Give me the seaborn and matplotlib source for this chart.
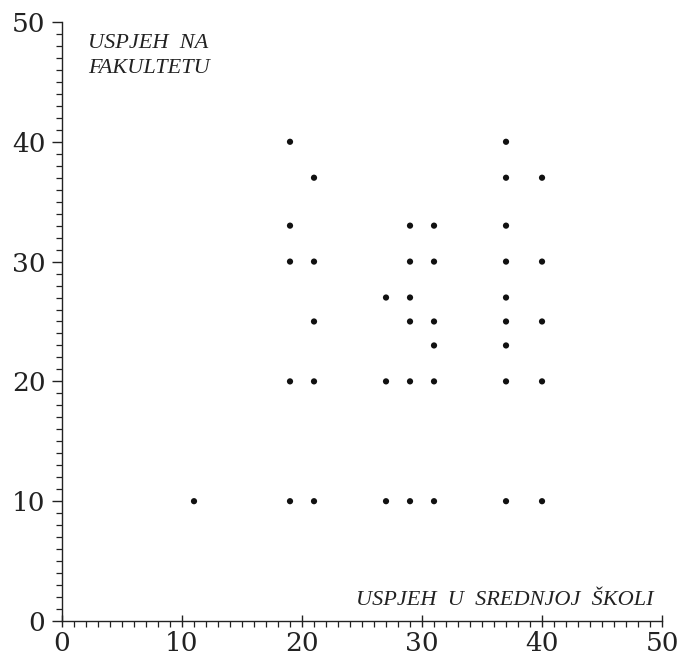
import numpy as np
import pandas as pd
import matplotlib
matplotlib.use("Agg")
import matplotlib.pyplot as plt
import seaborn as sns
from matplotlib.ticker import MultipleLocator

# Points: x = high school score, y = university score
skola = [11,
         19, 19, 19, 19, 19,
         21, 21, 21, 21, 21,
         27, 27, 27,
         29, 29, 29, 29, 29, 29,
         31, 31, 31, 31, 31, 31,
         37, 37, 37, 37, 37, 37, 37, 37, 37,
         40, 40, 40, 40, 40]
fakultet = [10,
            40, 33, 30, 20, 10,
            37, 30, 25, 20, 10,
            27, 20, 10,
            33, 30, 27, 25, 20, 10,
            33, 30, 25, 23, 20, 10,
            40, 37, 33, 30, 27, 25, 23, 20, 10,
            37, 30, 25, 20, 10]

major_ticks = [0, 10, 20, 30, 40, 50]
x_title = "USPJEH  U  SREDNJOJ  ŠKOLI"
y_title = "USPJEH  NA\nFAKULTETU"

data = pd.DataFrame({"skola": skola, "fakultet": fakultet})

sns.set_style("ticks")
plt.rcParams["font.family"] = ["DejaVu Serif"]

fig = plt.figure(figsize=(6.79, 6.60), dpi=100)
ax = fig.add_axes([0.0913, 0.0591, 0.8837, 0.9076])

sns.scatterplot(data=data, x="skola", y="fakultet", ax=ax,
                color="#111111", s=20, marker="o", edgecolor="none")

ax.set_xlim(0, 50)
ax.set_ylim(0, 50)
ax.set_xticks(major_ticks)
ax.set_yticks(major_ticks)
ax.xaxis.set_minor_locator(MultipleLocator(1))
ax.yaxis.set_minor_locator(MultipleLocator(1))
ax.set_xlabel("")
ax.set_ylabel("")

sns.despine(ax=ax)
for side in ["left", "bottom"]:
    ax.spines[side].set_linewidth(1.0)
    ax.spines[side].set_color("#222222")

ax.tick_params(axis="x", which="major", direction="inout", length=9,
               width=1.0, labelsize=19, pad=3, colors="#222222")
ax.tick_params(axis="x", which="minor", direction="out", length=4,
               width=0.9, colors="#222222")
ax.tick_params(axis="y", which="major", direction="out", length=7,
               width=1.0, labelsize=19, pad=5, colors="#222222")
ax.tick_params(axis="y", which="minor", direction="out", length=4,
               width=0.9, colors="#222222")

ax.text(0.043, 0.98, y_title, transform=ax.transAxes, ha="left", va="top",
        fontsize=16, style="italic", family=["Liberation Serif"],
        linespacing=1.45, color="#222222")
ax.text(0.985, 0.018, x_title, transform=ax.transAxes, ha="right",
        va="bottom", fontsize=16, style="italic",
        family=["Liberation Serif"], color="#222222")

fig.savefig("out.png", dpi=100)
